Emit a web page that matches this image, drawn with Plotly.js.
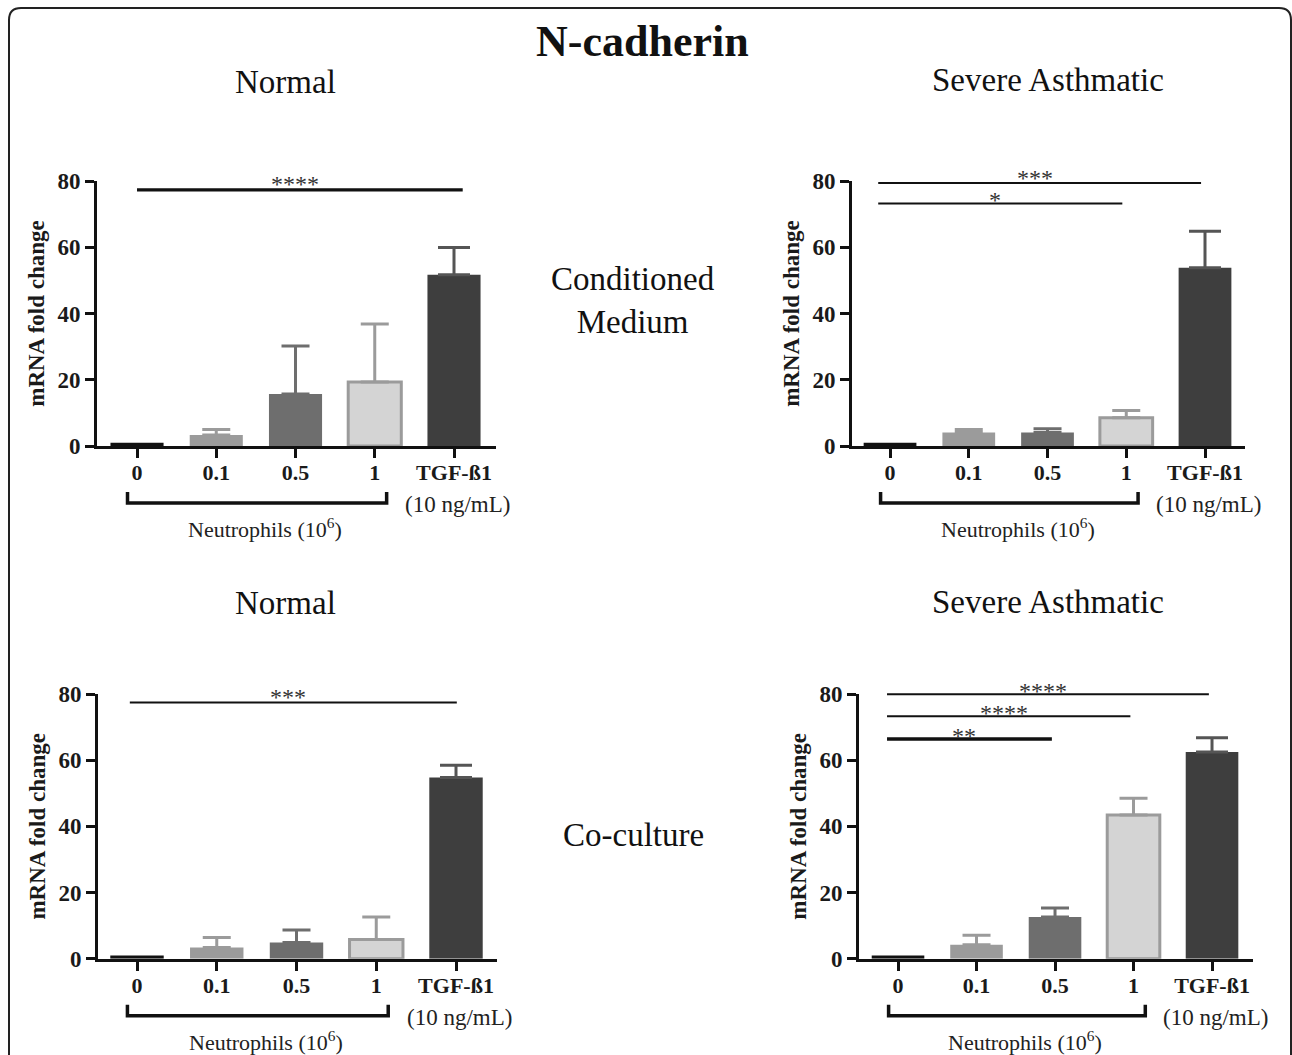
<!DOCTYPE html>
<html><head><meta charset="utf-8">
<script src="https://cdn.plot.ly/plotly-3.0.1.min.js"></script>
<style>html,body{margin:0;padding:0;background:#fff}</style>
</head><body><div id="chart" style="width:1292px;height:1055px"></div>
<script>
// ---- data ----
const categories = ['0', '0.1', '0.5', '1', 'TGF-ß1'];
const cmNormalMean = [1.0, 3.3, 15.7, 19.3, 51.7];
const cmNormalSem  = [0, 1.7, 14.5, 17.5, 8.2];
const cmSevereMean = [1.0, 4.1, 4.1, 8.5, 53.8];
const cmSevereSem  = [0, 0.9, 1.1, 2.2, 11.0];
const ccNormalMean = [1.0, 3.4, 4.9, 5.8, 54.8];
const ccNormalSem  = [0, 3.0, 3.8, 6.8, 3.7];
const ccSevereMean = [1.0, 4.2, 12.6, 43.4, 62.5];
const ccSevereSem  = [0, 2.9, 2.7, 5.1, 4.3];
const yTicks = [0, 20, 40, 60, 80];
// significance comparisons: [from category index, to category index, label]
const cmNormalSig = [[0, 4, '****']];
const cmSevereSig = [[0, 4, '***'], [0, 3, '*']];
const ccNormalSig = [[0, 4, '***']];
const ccSevereSig = [[0, 4, '****'], [0, 3, '****'], [0, 2, '**']];

// ---- styling ----
const W = 1292, H = 1055;
const FONT = 'Liberation Serif, Times New Roman, serif';
const fills  = ['#111111', '#9b9b9b', '#6e6e6e', '#d4d4d4', '#3e3e3e'];
const lineC  = ['#111111', '#9b9b9b', '#6e6e6e', '#9b9b9b', '#3e3e3e'];
const lineW  = [0, 0, 0, 3, 0];
const errC   = ['#111111', '#9b9b9b', '#6e6e6e', '#9b9b9b', '#555555'];
const capW   = [10, 14, 14, 14, 16];

const px = x => x / W;
const py = y => 1 - y / H;

const panels = [
  {mean: cmNormalMean, sem: cmNormalSem, sig: cmNormalSig, xPix: [97, 496], yPix: [181, 446],
   xr: [-0.505, 4.53], sigY: [77.3], sigW: [3.2], sigA: 0, sigB: 0.11, starShift: [6]},
  {mean: cmSevereMean, sem: cmSevereSem, sig: cmSevereSig, xPix: [852, 1245], yPix: [181, 446],
   xr: [-0.483, 4.508], sigY: [79.4, 73.2], sigW: [2, 2], sigA: -0.15, sigB: -0.05, starShift: [5, 4]},
  {mean: ccNormalMean, sem: ccNormalSem, sig: ccNormalSig, xPix: [98, 497], yPix: [694, 958.7],
   xr: [-0.489, 4.514], sigY: [77.4], sigW: [2], sigA: -0.09, sigB: 0.01, starShift: [6]},
  {mean: ccSevereMean, sem: ccSevereSem, sig: ccSevereSig, xPix: [859, 1253], yPix: [694, 958.7],
   xr: [-0.497, 4.522], sigY: [79.9, 73.3, 66.4], sigW: [2, 2, 3.5], sigA: -0.14, sigB: -0.04, starShift: [3, 3, 3]}
];

const traces = [];
const shapes = [];
const annotations = [];
const layout = {
  width: W, height: H, margin: {l: 0, r: 0, t: 0, b: 0},
  paper_bgcolor: '#fff', plot_bgcolor: 'rgba(0,0,0,0)',
  barmode: 'overlay', showlegend: false,
  font: {family: FONT, color: '#1a1a1a'}
};

panels.forEach((p, k) => {
  const n = k + 1;
  const xa = 'x' + (n === 1 ? '' : n), ya = 'y' + (n === 1 ? '' : n);
  const toPX = x => px(p.xPix[0] + (x - p.xr[0]) / (p.xr[1] - p.xr[0]) * (p.xPix[1] - p.xPix[0]));
  const toPY = y => py(p.yPix[1] - y / 80 * (p.yPix[1] - p.yPix[0]));
  categories.forEach((c, i) => {
    traces.push({
      type: 'bar', x: [i], y: [p.mean[i]], width: 0.67, xaxis: xa, yaxis: ya,
      marker: {color: fills[i], line: {color: lineC[i], width: lineW[i]}},
      error_y: {type: 'data', symmetric: false, array: [p.sem[i]], arrayminus: [0],
                visible: p.sem[i] > 0, color: errC[i], thickness: 3, width: capW[i]},
      hoverinfo: 'skip', name: c
    });
  });
  layout['xaxis' + (n === 1 ? '' : n)] = {
    domain: [px(p.xPix[0]), px(p.xPix[1])], range: p.xr, anchor: ya,
    tickvals: [0, 1, 2, 3, 4], ticktext: categories,
    showline: true, linewidth: 3, linecolor: '#111', ticks: 'outside', ticklen: 9, tickwidth: 3,
    tickcolor: '#111', showgrid: false, zeroline: false, fixedrange: true, ticklabelstandoff: -4,
    tickfont: {family: FONT, size: 22, weight: 'bold', color: '#1a1a1a'}
  };
  layout['yaxis' + (n === 1 ? '' : n)] = {
    domain: [py(p.yPix[1]), py(p.yPix[0])], range: [0, 80], anchor: xa,
    tickvals: yTicks, showline: true, linewidth: 3, linecolor: '#111',
    ticks: 'outside', ticklen: 9, tickwidth: 3, tickcolor: '#111',
    showgrid: false, zeroline: false, fixedrange: true,
    tickfont: {family: FONT, size: 23, weight: 'bold', color: '#1a1a1a'},
    title: {text: 'mRNA fold change', standoff: 7, font: {family: FONT, size: 23, weight: 'bold', color: '#1a1a1a'}}
  };
  // significance bars
  p.sig.forEach((s, j) => {
    const x0 = toPX(s[0] + p.sigA), x1 = toPX(s[1] + p.sigB), yy = toPY(p.sigY[j]);
    shapes.push({type: 'line', xref: 'paper', yref: 'paper', x0: x0, x1: x1, y0: yy, y1: yy,
                 line: {color: '#111', width: p.sigW[j]}});
    annotations.push({xref: 'paper', yref: 'paper', x: (x0 + x1) / 2 - px(5), y: yy,
                      xanchor: 'center', yanchor: 'middle',
                      yshift: p.starShift[j], text: s[2], showarrow: false,
                      font: {family: FONT, size: 24, color: '#333'}});
  });
  // neutrophil bracket below axis
  const bx0 = toPX(-0.12), bx1 = toPX(3.15);
  const by = py(p.yPix[1] + 57), bt = py(p.yPix[1] + 46);
  shapes.push({type: 'path', xref: 'paper', yref: 'paper',
               path: `M ${bx0},${bt} L ${bx0},${by} L ${bx1},${by} L ${bx1},${bt}`,
               line: {color: '#111', width: 3.5}});
  annotations.push({xref: 'paper', yref: 'paper', x: toPX(1.62), y: py(p.yPix[1] + 82),
                    xanchor: 'center', yanchor: 'middle',
                    text: 'Neutrophils (10<sup>6</sup>)', showarrow: false,
                    font: {family: FONT, size: 22, color: '#222'}});
  annotations.push({xref: 'paper', yref: 'paper', x: toPX(4.05), y: py(p.yPix[1] + 59),
                    xanchor: 'center', yanchor: 'middle',
                    text: '(10 ng/mL)', showarrow: false,
                    font: {family: FONT, size: 23, color: '#222'}});
});

// titles
const textNotes = [
  ['<b>N-cadherin</b>', 642, 42, 44],
  ['Normal', 285, 82, 33],
  ['Severe Asthmatic', 1048, 80, 33],
  ['Conditioned<br>Medium', 633, 301, 33],
  ['Normal', 285, 603, 33],
  ['Severe Asthmatic', 1048, 602, 33],
  ['Co-culture', 633, 835, 33]
];
textNotes.forEach(t => annotations.push({xref: 'paper', yref: 'paper', x: px(t[1]), y: py(t[2]),
  xanchor: 'center', yanchor: 'middle', text: t[0], showarrow: false,
  font: {family: FONT, size: t[3], color: '#111'}}));

// rounded outer frame
const r = 12, fx0 = 9, fy0 = 8, fx1 = 1291, fy1 = 1070;
shapes.push({type: 'path', xref: 'paper', yref: 'paper', line: {color: '#222', width: 2},
  path: `M ${px(fx0)},${py(fy1)} L ${px(fx0)},${py(fy0 + r)} Q ${px(fx0)},${py(fy0)} ${px(fx0 + r)},${py(fy0)} ` +
        `L ${px(fx1 - r)},${py(fy0)} Q ${px(fx1)},${py(fy0)} ${px(fx1)},${py(fy0 + r)} L ${px(fx1)},${py(fy1)}`});

layout.shapes = shapes;
layout.annotations = annotations;
Plotly.newPlot('chart', traces, layout, {displayModeBar: false, staticPlot: true});
</script></body></html>
